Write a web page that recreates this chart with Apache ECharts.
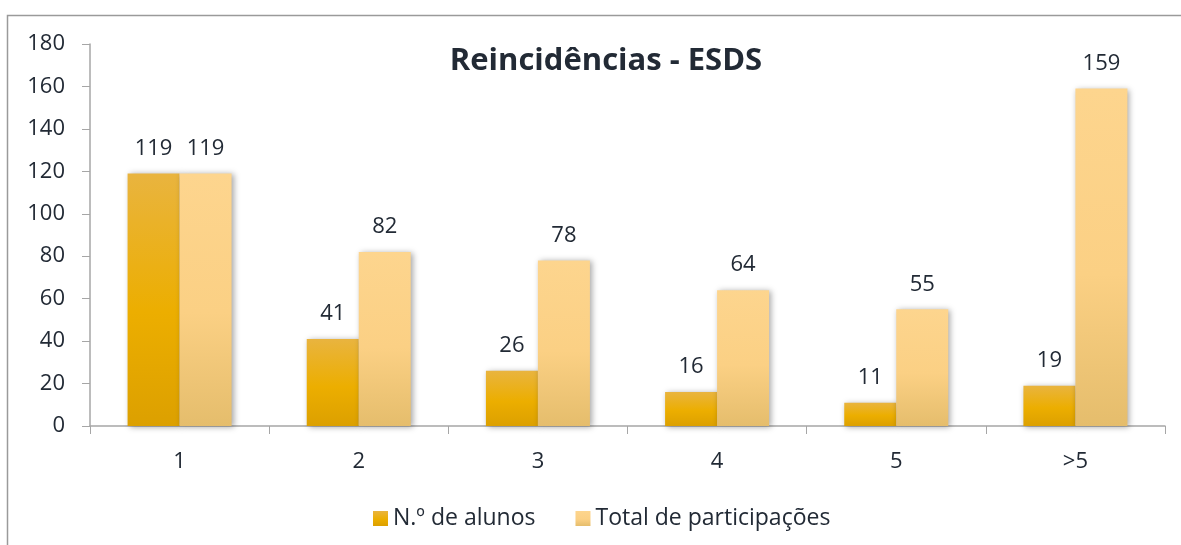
<!DOCTYPE html>
<html>
<head>
<meta charset="utf-8">
<script src="https://cdn.jsdelivr.net/npm/echarts@6/dist/echarts.min.js"></script>
<style>
html,body{margin:0;padding:0;background:#fff;}
#chart{width:1181px;height:545px;}
</style>
</head>
<body>
<div id="chart"></div>
<script>
var categories = ["1", "2", "3", "4", "5", ">5"];
var alunos = [119, 41, 26, 16, 11, 19];
var participacoes = [119, 82, 78, 64, 55, 159];
var yTicks = [0, 20, 40, 60, 80, 100, 120, 140, 160, 180];

var txt = "#222a35";
var font = "Open Sans";

function grad(top, mid, bottom){
    return new echarts.graphic.LinearGradient(0, 0, 0, 1, [
        {offset: 0, color: top},
        {offset: 0.55, color: mid},
        {offset: 1, color: bottom}
    ]);
}

var chart = echarts.init(document.getElementById("chart"));
var option = {
    animation: false,
    textStyle: {fontFamily: font, color: txt},
    title: {
        text: "Reincidências - ESDS",
        left: 601, top: 41, textAlign: "center",
        textStyle: {fontFamily: font, fontSize: 31, fontWeight: "bold", color: txt}
    },
    graphic: [
        {type: "polyline", silent: true,
         shape: {points: [[7.5, 545], [7.5, 15.5], [1181, 15.5]]},
         style: {stroke: "#9a9a9a", lineWidth: 1.5, fill: null}}
    ],
    legend: {
        bottom: 10, left: 368, itemGap: 40,
        itemWidth: 15, itemHeight: 15, icon: "rect",
        textStyle: {fontFamily: font, fontSize: 23, color: txt},
        data: ["N.º de alunos", "Total de participações"]
    },
    grid: {left: 90, right: 16, top: 44, bottom: 119},
    xAxis: {
        type: "category",
        data: categories,
        axisLine: {lineStyle: {color: "#a6a6a6", width: 1.5}},
        axisTick: {show: true, length: 8, lineStyle: {color: "#a6a6a6"}},
        axisLabel: {fontFamily: font, fontSize: 22, color: txt, margin: 25}
    },
    yAxis: {
        type: "value",
        min: yTicks[0], max: yTicks[yTicks.length - 1], interval: 20,
        splitLine: {show: false},
        axisLine: {show: true, lineStyle: {color: "#a6a6a6", width: 1.5}},
        axisTick: {show: true, length: 8, lineStyle: {color: "#a6a6a6"}},
        axisLabel: {fontFamily: font, fontSize: 22, color: txt, margin: 25}
    },
    series: [
        {
            name: "N.º de alunos", type: "bar", data: alunos,
            barWidth: 52, barGap: "0%",
            itemStyle: {
                color: grad("#e9b43f", "#ecae00", "#dca000"),
                shadowColor: "rgba(0,0,0,0.35)", shadowBlur: 6, shadowOffsetX: 2, shadowOffsetY: 1
            },
            label: {show: true, position: "top", distance: 14,
                    fontFamily: font, fontSize: 22, color: txt}
        },
        {
            name: "Total de participações", type: "bar", data: participacoes,
            barWidth: 52, barGap: "0%",
            itemStyle: {
                color: grad("#fdd58e", "#fbd084", "#e5bd6c"),
                shadowColor: "rgba(0,0,0,0.35)", shadowBlur: 6, shadowOffsetX: 2, shadowOffsetY: 1
            },
            label: {show: true, position: "top", distance: 14,
                    fontFamily: font, fontSize: 22, color: txt}
        }
    ]
};
chart.setOption(option);
</script>
</body>
</html>
